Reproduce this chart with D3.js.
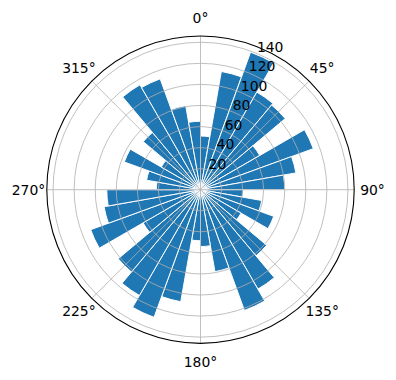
<!DOCTYPE html>
<html>
<head>
<meta charset="utf-8">
<script src="https://cdn.jsdelivr.net/npm/d3@7"></script>
<style>
  body { margin: 0; background: #fff; }
  text { font-family: "DejaVu Sans", sans-serif; font-size: 13.9px; fill: #000; }
</style>
</head>
<body>
<script>
// bar heights, one per 10° sector, clockwise from north
const sectorStarts = d3.range(0, 360, 10);
const counts = [51, 114, 139, 107, 105, 65, 114, 92, 80,
                40.5, 59, 74, 44.5, 82, 109, 122, 79, 54,
                48.5, 108, 129, 116, 102, 63, 111, 93, 89,
                42, 52, 77, 43, 71, 115, 112, 81, 65];
const rTicks = [20, 40, 60, 80, 100, 120, 140];
const thetaTicks = [0, 45, 90, 135, 180, 225, 270, 315];

const W = 396, H = 380;
const cx = 200.5, cy = 189.7, R = 153.7;
const rad = d => d * Math.PI / 180;

const svg = d3.select("body").append("svg")
  .attr("width", W).attr("height", H);

const g = svg.append("g").attr("transform", `translate(${cx},${cy})`);

const r = d3.scaleLinear()
  .domain([0, d3.max(counts) * 1.05])
  .range([0, R]);

const arc = d3.arc()
  .innerRadius(0)
  .outerRadius(d => r(d.v))
  .startAngle(d => rad(d.a))
  .endAngle(d => rad(d.a + 10));

g.selectAll("path.bar")
  .data(counts.map((v, i) => ({ v, a: sectorStarts[i] })))
  .join("path")
  .attr("class", "bar")
  .attr("d", arc)
  .attr("fill", "#1f77b4")
  .attr("stroke", "#fff")
  .attr("stroke-width", 1);

// grid on top of the bars, as in matplotlib
g.selectAll("circle.ring")
  .data(rTicks)
  .join("circle")
  .attr("class", "ring")
  .attr("r", d => r(d))
  .attr("fill", "none")
  .attr("stroke", "#b0b0b0")
  .attr("stroke-width", 0.8);

g.selectAll("line.spoke")
  .data(thetaTicks)
  .join("line")
  .attr("class", "spoke")
  .attr("x1", 0).attr("y1", 0)
  .attr("x2", d => R * Math.sin(rad(d)))
  .attr("y2", d => -R * Math.cos(rad(d)))
  .attr("stroke", "#b0b0b0")
  .attr("stroke-width", 0.8);

g.append("circle")
  .attr("r", R)
  .attr("fill", "none")
  .attr("stroke", "#000")
  .attr("stroke-width", 1.1);

// angle labels
g.selectAll("text.theta")
  .data(thetaTicks)
  .join("text")
  .attr("class", "theta")
  .attr("x", d => 172 * Math.sin(rad(d)))
  .attr("y", d => -172 * Math.cos(rad(d)))
  .attr("text-anchor", "middle")
  .attr("dominant-baseline", "central")
  .text(d => d + "°");

// radius labels along 22.5°
g.selectAll("text.rlab")
  .data(rTicks)
  .join("text")
  .attr("class", "rlab")
  .attr("x", d => r(d) * Math.sin(rad(22.5)))
  .attr("y", d => -r(d) * Math.cos(rad(22.5)) - 1.5)
  .attr("text-anchor", "start")
  .text(d => d);
</script>
</body>
</html>
